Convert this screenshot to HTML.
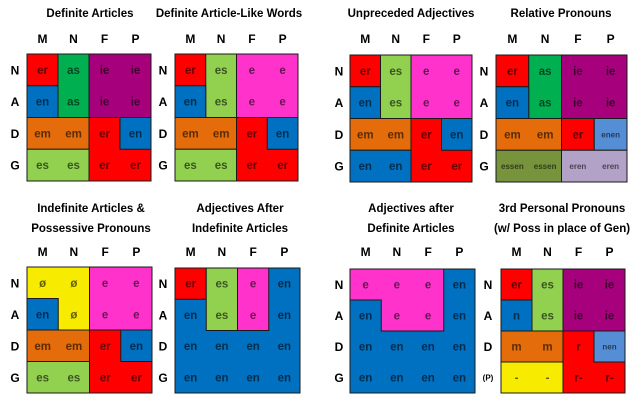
<!DOCTYPE html>
<html><head><meta charset="utf-8"><style>
html,body{margin:0;padding:0;background:#fff;width:640px;height:412px;overflow:hidden}
svg text{font-family:"Liberation Sans",Arial,sans-serif;font-weight:bold}
</style></head><body>
<svg id="chart" width="640" height="412" viewBox="0 0 640 412" xmlns="http://www.w3.org/2000/svg"></svg>
<script>
const C={red:"#ff0000",grn:"#00b050",pur:"#a6007c",blu:"#0070c0",org:"#e46c0a",lgr:"#92d050",mag:"#ff33cc",yel:"#f7ec00",lbl:"#558ed5",olv:"#77933c",lav:"#b3a2c7"};
const colHeaders=["M","N","F","P"];
const titles=[["Definite Articles"],["Definite Article-Like Words"],["Unpreceded Adjectives"],["Relative Pronouns"],["Indefinite Articles &","Possessive Pronouns"],["Adjectives After","Indefinite Articles"],["Adjectives after","Definite Articles"],["3rd Personal Pronouns","(w/ Poss in place of Gen)"]];
const rowLabels=[["N","A","D","G"],["N","A","D","G"],["N","A","D","G"],["N","A","D","G"],["N","A","D","G"],["N","A","D","G"],["N","A","D","G"],["N","A","D","(P)"]];
const cellText=[
[["er","as","ie","ie"],["en","as","ie","ie"],["em","em","er","en"],["es","es","er","er"]],
[["er","es","e","e"],["en","es","e","e"],["em","em","er","en"],["es","es","er","er"]],
[["er","es","e","e"],["en","es","e","e"],["em","em","er","en"],["en","en","er","er"]],
[["er","as","ie","ie"],["en","as","ie","ie"],["em","em","er","enen"],["essen","essen","eren","eren"]],
[["ø","ø","e","e"],["en","ø","e","e"],["em","em","er","en"],["es","es","er","er"]],
[["er","es","e","en"],["en","es","e","en"],["en","en","en","en"],["en","en","en","en"]],
[["e","e","e","en"],["en","e","e","en"],["en","en","en","en"],["en","en","en","en"]],
[["er","es","ie","ie"],["n","es","ie","ie"],["m","m","r","nen"],["-","-","r-","r-"]]];
// regions: [color, polygon in cell units]
const R=(c,x,y,w,h)=>[c,[[x,y],[x+w,y],[x+w,y+h],[x,y+h]]];
const regions=[
[R("red",0,0,1,1),R("grn",1,0,1,2),R("pur",2,0,2,2),R("blu",0,1,1,1),R("org",0,2,2,1),R("red",2,2,2,2),R("blu",3,2,1,1),R("lgr",0,3,2,1)],
[R("red",0,0,1,1),R("lgr",1,0,1,2),R("mag",2,0,2,2),R("blu",0,1,1,1),R("org",0,2,2,1),R("red",2,2,2,2),R("blu",3,2,1,1),R("lgr",0,3,2,1)],
[R("red",0,0,1,1),R("lgr",1,0,1,2),R("mag",2,0,2,2),R("blu",0,1,1,1),R("org",0,2,2,1),R("red",2,2,2,2),R("blu",3,2,1,1),R("blu",0,3,2,1)],
[R("red",0,0,1,1),R("grn",1,0,1,2),R("pur",2,0,2,2),R("blu",0,1,1,1),R("org",0,2,2,1),R("red",2,2,1,1),R("lbl",3,2,1,1),R("olv",0,3,2,1),R("lav",2,3,2,1)],
[R("yel",0,0,2,2),R("blu",0,1,1,1),R("mag",2,0,2,2),R("org",0,2,2,1),R("red",2,2,2,2),R("blu",3,2,1,1),R("lgr",0,3,2,1)],
[R("blu",0,0,4,4),R("red",0,0,1,1),R("lgr",1,0,1,2),R("mag",2,0,1,2)],
[R("blu",0,0,4,4),["mag",[[0,0],[3,0],[3,2],[1,2],[1,1],[0,1]]]],
[R("red",0,0,1,1),R("lgr",1,0,1,2),R("pur",2,0,2,2),R("blu",0,1,1,1),R("org",0,2,2,1),R("red",2,2,2,2),R("lbl",3,2,1,1),R("yel",0,3,2,1)]];
const boxes=[[27,54,151,181],[175,54,298,181],[350,55,472,182],[496,55,627,182],[27,267,152,393],[175,268,300,393],[350,269,475,393],[501,269,625,393]];
const rowLabelX=[15,163,339,484,15,163,339,488];
const titleCX=[90,229,411,561,91,240,411,562];
const NS="http://www.w3.org/2000/svg";
const svg=document.getElementById("chart");
function mk(tag,attrs,parent){const e=document.createElementNS(NS,tag);for(const k in attrs)e.setAttribute(k,attrs[k]);(parent||svg).appendChild(e);return e;}
boxes.forEach((b,p)=>{
  const g=mk("g",{});
  
  
  const cw=(b[2]-b[0])/4, ch=(b[3]-b[1])/4;
  const top=p<4;
  titles[p].forEach((t,i)=>{
    const ty=top?17:(titles[p].length>1?212+i*20:230);
    const tx=mk("text",{x:titleCX[p],y:ty,"text-anchor":"middle","font-size":"11.5",fill:"#000"},g);
    tx.textContent=t;
    
    
  });
  colHeaders.forEach((h,i)=>{
    const hy=top?43:256;
    const t=mk("text",{x:b[0]+cw*(i+0.5),y:hy,"text-anchor":"middle","font-size":"12",fill:"#000"},g);
    t.textContent=h;
    
    
  });
  rowLabels[p].forEach((l,i)=>{
    const small=l.length>1;
    const t=mk("text",{x:rowLabelX[p],y:b[1]+ch*(i+0.5)+(small?3:4.5),"text-anchor":"middle","font-size":small?"8":"12",fill:"#000"},g);
    t.textContent=l;
    
    
  });
  regions[p].forEach(([c,pts])=>{
    const pg=mk("polygon",{points:pts.map(q=>(b[0]+q[0]*cw)+","+(b[1]+q[1]*ch)).join(" "),fill:C[c],stroke:"#1a1a1a","stroke-width":"1"},g);
    
    
  });
  cellText[p].forEach((row,r)=>row.forEach((s,c)=>{
    const small=s.length>2&&s!=="ie";
    const t=mk("text",{x:b[0]+cw*(c+0.5),y:b[1]+ch*(r+0.5)+(small?3:4),"text-anchor":"middle","font-size":small?"8":"11.5",fill:"rgba(0,0,0,0.6)"},g);
    t.textContent=s;
    
    
  }));
});
</script>
</body></html>
